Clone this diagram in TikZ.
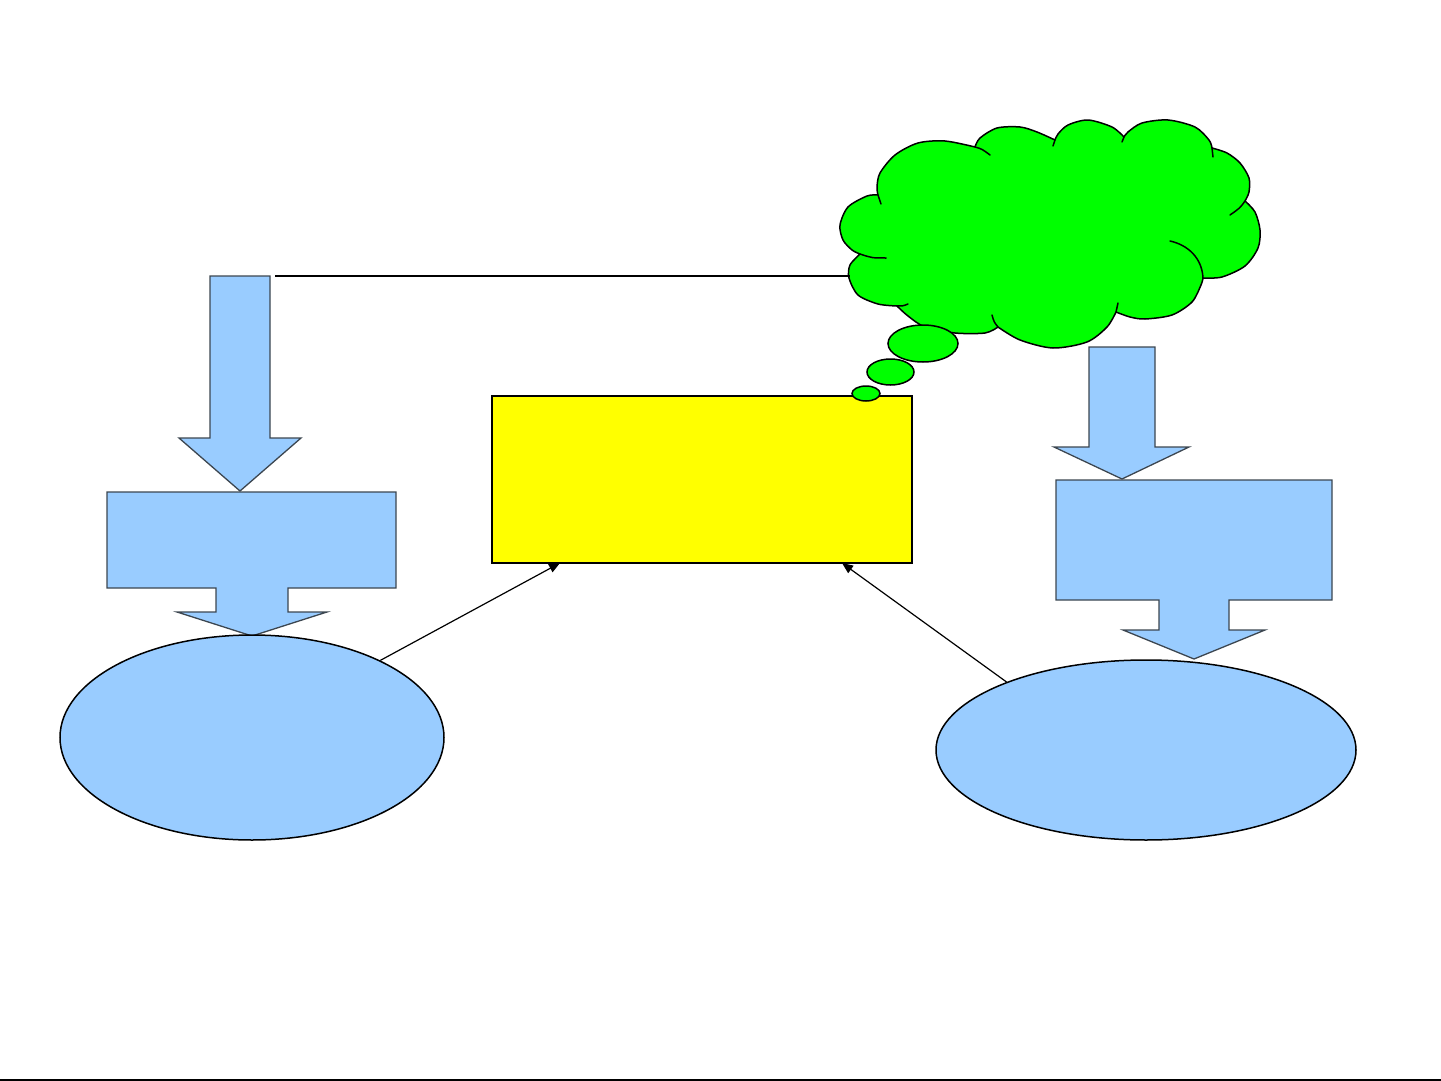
\documentclass[tikz,border=0pt]{standalone}
\usetikzlibrary{arrows.meta,shapes.geometric}
\definecolor{skyblue}{RGB}{153,204,255}
\definecolor{edgegray}{RGB}{60,70,80}
\definecolor{cloudgreen}{RGB}{0,255,0}
\definecolor{boxyellow}{RGB}{255,255,0}
\tikzset{
  bluearrow/.style={fill=skyblue,draw=edgegray,line width=1.3pt,line join=miter},
  blueell/.style={ellipse,fill=skyblue,draw=black,line width=1.5pt,inner sep=0pt},
  yelbox/.style={rectangle,fill=boxyellow,draw=black,line width=2pt,inner sep=0pt},
  cloudshape/.style={fill=cloudgreen,draw=black,line width=1.5pt,line join=round},
  hint/.style={draw=black,line width=1.5pt,line cap=round},
  bubble/.style={ellipse,fill=cloudgreen,draw=black,line width=1.5pt,inner sep=0pt},
  conn/.style={draw=black,line width=1.2pt,-{Triangle[length=11pt,width=9pt]}},
  plainline/.style={draw=black,line width=2pt}
}
\begin{document}
\begin{tikzpicture}[x=1pt,y=-1pt]
\useasboundingbox (0,0) rectangle (1441,1081);

% left down arrow
\draw[bluearrow] (210,276) -- (270,276) -- (270,438) -- (301,438) -- (240,491) -- (179,438) -- (210,438) -- cycle;
% left box with down arrow
\draw[bluearrow] (107,492) -- (396,492) -- (396,588) -- (288,588) -- (288,612) -- (327,612) -- (252,636) -- (177,612) -- (216,612) -- (216,588) -- (107,588) -- cycle;
% left ellipse
\node[blueell,minimum width=384pt,minimum height=205pt] (lell) at (252,737.5) {};

% right down arrow
\draw[bluearrow] (1089,347) -- (1155,347) -- (1155,447) -- (1189,447) -- (1122,479) -- (1054,447) -- (1089,447) -- cycle;
% right box with down arrow
\draw[bluearrow] (1056,480) -- (1332,480) -- (1332,600) -- (1229,600) -- (1229,630) -- (1265,630) -- (1194,659) -- (1123,630) -- (1159,630) -- (1159,600) -- (1056,600) -- cycle;
% right ellipse
\node[blueell,minimum width=420pt,minimum height=180pt] (rell) at (1146,750) {};

% yellow box
\node[yelbox,minimum width=420pt,minimum height=167pt] (yel) at (702,479.5) {};

% cloud
\filldraw[cloudshape]
  plot[smooth] coordinates {(878,195) (877,187) (880,173) (895,155) (918,143) (945,141) (975,147)}
  -- plot[smooth] coordinates {(975,147) (980,138) (997,128) (1020,127) (1037,132) (1055,140)}
  -- plot[smooth] coordinates {(1055,140) (1058,134) (1068,125) (1088,120) (1112,127) (1124,137)}
  -- plot[smooth] coordinates {(1124,137) (1128,132) (1142,123) (1168,120) (1195,127) (1209,140) (1212,148)}
  -- plot[smooth] coordinates {(1212,148) (1227,153) (1240,163) (1249,178) (1249,192) (1245,201)}
  -- plot[smooth] coordinates {(1245,201) (1255,212) (1260,230) (1258,248) (1245,266) (1222,277) (1203,278)}
  -- plot[smooth] coordinates {(1203,278) (1201,285) (1192,302) (1172,315) (1145,319) (1130,317) (1116,312)}
  -- plot[smooth] coordinates {(1116,312) (1107,327) (1087,342) (1053,348) (1020,340) (998,327)}
  -- plot[smooth] coordinates {(998,327) (985,333) (955,333) (925,327) (908,316) (897,306)}
  -- plot[smooth] coordinates {(897,306) (878,304) (858,295) (849,278) (850,265) (860,254)}
  -- plot[smooth] coordinates {(860,254) (852,250) (843,240) (840,225) (848,207) (867,196) (878,195)}
  -- cycle;
% inner arc hints of the cloud
\draw[hint] (975,147) .. controls (982,149) .. (990,155);
\draw[hint] (878,195) .. controls (879,200) .. (881,204);
\draw[hint] (860,254) .. controls (872,258) .. (886,258);
\draw[hint] (897,306) .. controls (903,306) .. (908,304);
\draw[hint] (998,327) .. controls (994,322) .. (992,315);
\draw[hint] (1116,312) .. controls (1117,308) .. (1118,303);
\draw[hint] (1203,278) .. controls (1202,258) and (1188,245) .. (1170,241);
\draw[hint] (1245,201) .. controls (1240,208) .. (1230,215);
\draw[hint] (1212,148) .. controls (1213,152) .. (1213,157);
\draw[hint] (1124,137) .. controls (1123,139) .. (1122,142);
\draw[hint] (1055,140) .. controls (1054,143) .. (1053,146);

% thought bubbles
\node[bubble,minimum width=70pt,minimum height=37pt] (b1) at (923,343.5) {};
\node[bubble,minimum width=47pt,minimum height=26pt] (b2) at (890.5,372) {};
\node[bubble,minimum width=28pt,minimum height=15pt] (b3) at (866,393.5) {};

% horizontal line from left arrow to cloud
\coordinate (hl) at (275,276);
\coordinate (hr) at (850,276);
\draw[plainline] (hl) -- (hr);

% connectors
\coordinate (t1) at (560,563);
\coordinate (t2) at (842,563);
\draw[conn] (lell.31) -- (t1);
\draw[conn] (rell.154) -- (t2);

% bottom rule
\coordinate (bl) at (0,1080);
\coordinate (br) at (1441,1080);
\draw[plainline] (bl) -- (br);
\end{tikzpicture}
\end{document}
